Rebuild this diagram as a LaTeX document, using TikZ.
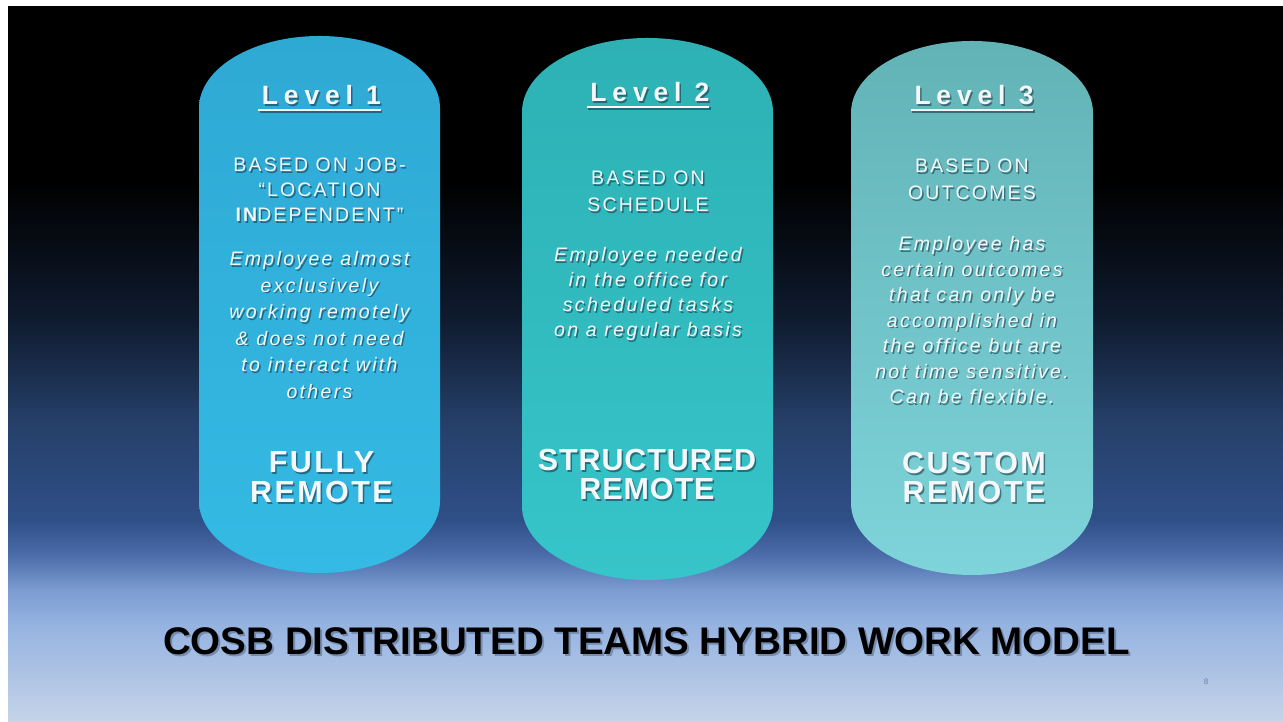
\documentclass[tikz,border=0pt]{standalone}
\usepackage{fontspec}
\setmainfont{Liberation Sans}
\newfontfamily\levelfont[LetterSpace=22]{Liberation Sans}
\newfontfamily\capsfont[LetterSpace=11]{Liberation Sans}
\newfontfamily\notefont[LetterSpace=12]{Liberation Sans}
\newfontfamily\kindfont[LetterSpace=8]{Liberation Sans}
\newfontfamily\tightkindfont[LetterSpace=3]{Liberation Sans}

\definecolor{bgA}{HTML}{0F1B2F}
\definecolor{bgB}{HTML}{253F68}
\definecolor{bgC}{HTML}{2F4F88}
\definecolor{bgD}{HTML}{4C6CAA}
\definecolor{bgE}{HTML}{7C9CD2}
\definecolor{bgF}{HTML}{95B3E1}
\definecolor{bgG}{HTML}{C6D4E8}
\definecolor{oneTop}{HTML}{2EA9D4}
\definecolor{oneBot}{HTML}{34BAE4}
\definecolor{twoTop}{HTML}{2DB1B4}
\definecolor{twoBot}{HTML}{36C5CA}
\definecolor{threeTop}{HTML}{62B3B6}
\definecolor{threeBot}{HTML}{7ED4DA}
\definecolor{ink}{HTML}{F4F8FA}
\definecolor{inkshadow}{HTML}{123040}
\definecolor{titleshadow}{HTML}{5A6C8A}
\definecolor{pagenum}{HTML}{6B7FA5}

\tikzset{
  level/.style={anchor=base, text=ink, font=\levelfont\bfseries\fontsize{26.5}{30}\selectfont},
  caps/.style={anchor=base, align=center, text=ink, font=\capsfont\fontsize{19.5}{#1}\selectfont},
  note/.style={anchor=base, align=center, text=ink, font=\notefont\itshape\fontsize{19.5}{#1}\selectfont},
  kind/.style={anchor=base, align=center, text=ink, font=\kindfont\bfseries\fontsize{30.5}{#1}\selectfont},
  tightkind/.style={anchor=base, align=center, text=ink, font=\tightkindfont\bfseries\fontsize{30.5}{#1}\selectfont},
  shadowed/.style={text=inkshadow, opacity=0.55, xshift=1.5pt, yshift=-1.5pt},
  uline/.style={draw=ink, line width=2.4pt},
  ulineshadow/.style={draw=inkshadow, line width=2.4pt, opacity=0.55},
}

% text with a soft dark offset copy behind it (anchored at its last baseline)
\newcommand\shtext[4]{%
  \node[#3, shadowed] (#1-sh) at (#2) {#4};
  \node[#3] (#1) at (#2) {#4};
}
% capsule: centre x, half width, top, bottom, cap height, colours
\newcommand\capsule[7]{%
  \shade[top color=#6, bottom color=#7]
    ({#1-#2},{#3-#5}) arc[start angle=180, end angle=0, x radius=#2, y radius=#5]
    -- ({#1+#2},{#4+#5}) arc[start angle=0, end angle=-180, x radius=#2, y radius=#5]
    -- cycle;
}
% underline below a level heading
\newcommand\headline[1]{%
  \draw[ulineshadow] ([xshift=1.5pt,yshift=-6.5pt]#1.base west) -- ([xshift=-2.5pt,yshift=-6.5pt]#1.base east);
  \draw[uline] ([yshift=-5pt]#1.base west) -- ([xshift=-4pt,yshift=-5pt]#1.base east);
}

\begin{document}
\begin{tikzpicture}[x=1pt, y=1pt]
\useasboundingbox (0,0) rectangle (1283,722);
\fill[white] (0,0) rectangle (1283,722);

% slide background, black at the top fading to pale blue
\fill[black] (8,541.5) rectangle (1283,716);
\shade[top color=black, bottom color=bgA] (8,401.5) rectangle (1283,542);
\shade[top color=bgA, bottom color=bgB] (8,301.5) rectangle (1283,402);
\shade[top color=bgB, bottom color=bgC] (8,201.5) rectangle (1283,302);
\shade[top color=bgC, bottom color=bgD] (8,166.5) rectangle (1283,202);
\shade[top color=bgD, bottom color=bgE] (8,131.5) rectangle (1283,167);
\shade[top color=bgE, bottom color=bgF] (8,96.5) rectangle (1283,132);
\shade[top color=bgF, bottom color=bgG] (8,0) rectangle (1283,97);

% the three level capsules
\capsule{319.5}{120.5}{686}{149}{72}{oneTop}{oneBot}
\capsule{647.5}{125.5}{684}{142}{74}{twoTop}{twoBot}
\capsule{972}{121}{681}{147}{72}{threeTop}{threeBot}

% Level 1
\coordinate (p1) at (321.5,617);
\shtext{lvl1}{p1}{level}{Level 1}
\headline{lvl1}
\coordinate (b1) at (319.5,500);
\shtext{basis1}{b1}{caps=25}{BASED ON JOB-\\“LOCATION\\{\bfseries IN}DEPENDENT”}
\coordinate (n1) at (319.5,323.5);
\shtext{note1}{n1}{note=26.5}{Employee almost\\exclusively\\working remotely\\\& does not need\\to interact with\\others}
\coordinate (k1) at (321.5,219);
\shtext{kind1}{k1}{kind=30}{FULLY\\REMOTE}

% Level 2
\coordinate (p2) at (650,620);
\shtext{lvl2}{p2}{level}{Level 2}
\headline{lvl2}
\coordinate (b2) at (648,510);
\shtext{basis2}{b2}{caps=27}{BASED ON\\SCHEDULE}
\coordinate (n2) at (648,385);
\shtext{note2}{n2}{note=25}{Employee needed\\in the office for\\scheduled tasks\\on a regular basis}
\coordinate (k2) at (647,222);
\shtext{kind2}{k2}{tightkind=29}{STRUCTURED\\REMOTE}

% Level 3
\coordinate (p3) at (974,617);
\shtext{lvl3}{p3}{level}{Level 3}
\headline{lvl3}
\coordinate (b3) at (972,522);
\shtext{basis3}{b3}{caps=27}{BASED ON\\OUTCOMES}
\coordinate (n3) at (972,318);
\shtext{note3}{n3}{note=25.5}{Employee has\\certain outcomes\\that can only be\\accomplished in\\the office but are\\not time sensitive.\\Can be flexible.}
\coordinate (k3) at (974,219);
\shtext{kind3}{k3}{kind=29}{CUSTOM\\REMOTE}

% title and page number
\node[anchor=base, text=titleshadow, opacity=0.6, font=\bfseries\fontsize{38.5}{40}\selectfont] (title-sh) at (648.5,65) {COSB DISTRIBUTED TEAMS HYBRID WORK MODEL};
\node[anchor=base, text=black, font=\bfseries\fontsize{38.5}{40}\selectfont] (title) at (646.5,67) {COSB DISTRIBUTED TEAMS HYBRID WORK MODEL};
\node[text=pagenum, font=\fontsize{8}{9}\selectfont] (page) at (1206,40) {8};
\end{tikzpicture}
\end{document}
